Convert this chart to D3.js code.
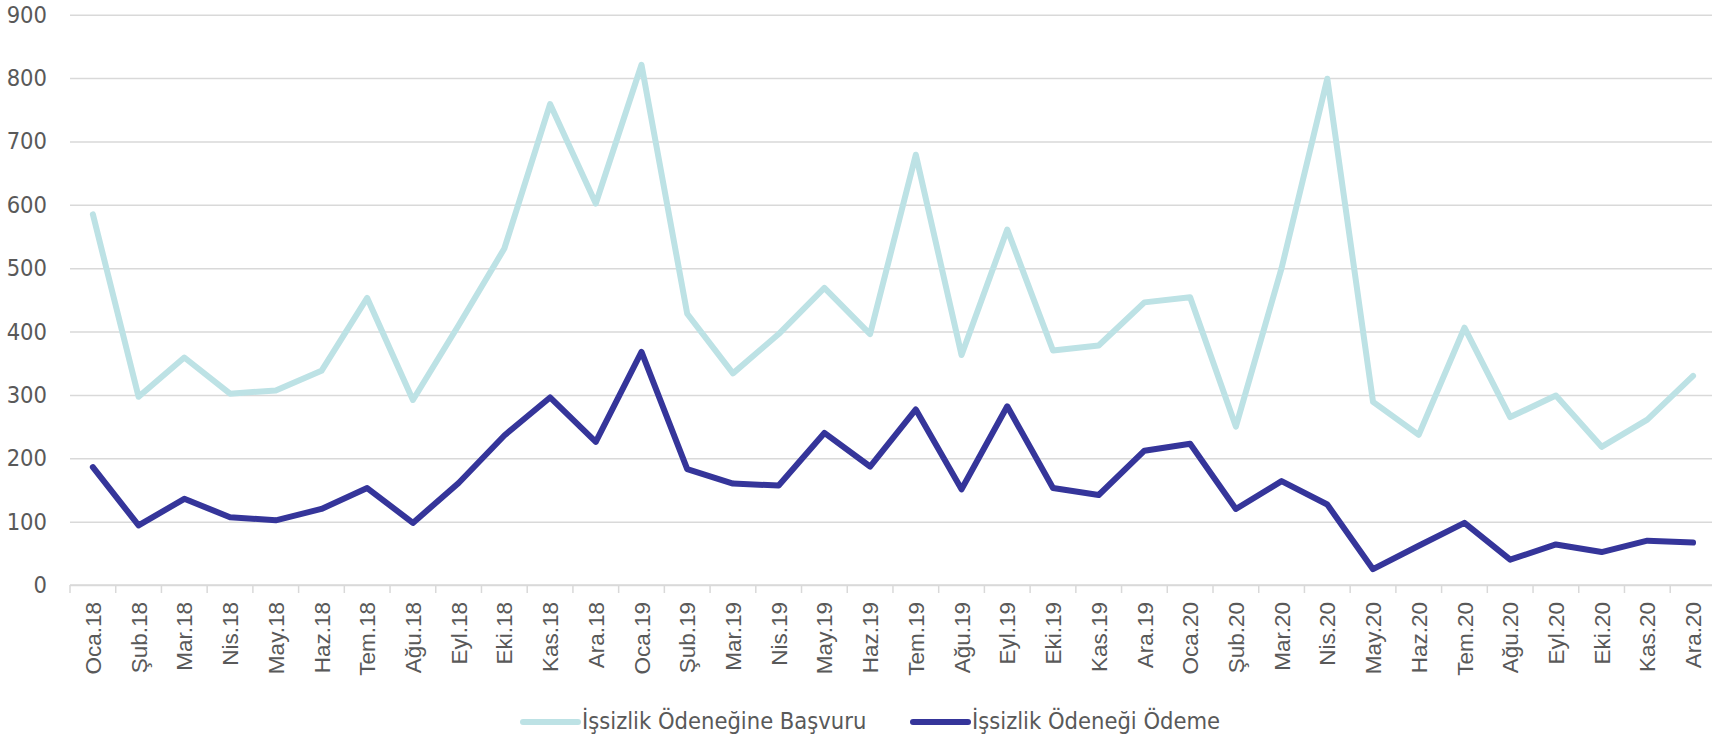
<!DOCTYPE html>
<html lang="tr">
<head>
<meta charset="utf-8">
<script src="https://cdn.jsdelivr.net/npm/d3@7"></script>
<style>
  html, body { margin: 0; padding: 0; background: #fff; }
  svg { display: block; }
</style>
</head>
<body>
<div id="chart"></div>
<script>
const months = ['Oca', 'Şub', 'Mar', 'Nis', 'May', 'Haz', 'Tem', 'Ağu', 'Eyl', 'Eki', 'Kas', 'Ara'];
const years = ['18', '19', '20'];
const categories = years.flatMap((y) => months.map((m) => `${m}.${y}`));

// İşsizlik Ödeneğine Başvuru
const basvuru = [585, 297, 359, 302, 307, 338, 453, 292, 410, 531, 759, 602,
  821, 428, 334, 396, 469, 396, 679, 363, 561, 370, 378, 446,
  454, 250, 500, 799, 289, 237, 406, 265, 299, 218, 261, 330];

// İşsizlik Ödeneği Ödeme
const odeme = [186, 94, 136, 107, 102, 120, 153, 98, 161, 236, 296, 226,
  368, 183, 160, 157, 240, 187, 277, 151, 282, 153, 142, 212,
  223, 120, 164, 127, 25, 62, 98, 40, 64, 52, 70, 67];

const yTicks = [0, 100, 200, 300, 400, 500, 600, 700, 800, 900];

const series = [
  { name: 'İşsizlik Ödeneğine Başvuru', values: basvuru, color: '#bde2e5' },
  { name: 'İşsizlik Ödeneği Ödeme', values: odeme, color: '#35359a' },
];

const width = 1712;
const height = 736;
const plot = { left: 70, top: 14.7, bottom: 585 };
const band = 45.72;

const svg = d3.select('#chart').append('svg')
  .attr('width', width)
  .attr('height', height);

const xScale = d3.scaleBand()
  .domain(categories)
  .range([plot.left, plot.left + band * categories.length])
  .paddingInner(0)
  .paddingOuter(0);

const yScale = d3.scaleLinear()
  .domain([0, 900])
  .range([plot.bottom, plot.top]);

const xMid = (d) => xScale(d) + xScale.bandwidth() / 2;

// gridlines + y labels
const yAxis = svg.append('g')
  .attr('transform', `translate(${plot.left}, 0)`)
  .call(d3.axisLeft(yScale).tickValues(yTicks).tickSize(-(width - plot.left)).tickPadding(23));

yAxis.select('.domain').remove();
yAxis.selectAll('.tick line')
  .attr('stroke', '#d9d9d9')
  .attr('stroke-width', 1.5);
yAxis.selectAll('.tick text')
  .attr('fill', '#595959')
  .style('font-family', '"DejaVu Sans Condensed", "DejaVu Sans", sans-serif')
  .style('font-size', '23.5px');

// x axis with ticks between categories
const xAxis = svg.append('g')
  .attr('transform', `translate(0, ${plot.bottom})`);

xAxis.append('line')
  .attr('x1', plot.left)
  .attr('x2', width)
  .attr('stroke', '#d9d9d9')
  .attr('stroke-width', 1.5);

xAxis.selectAll('line.tick')
  .data(categories)
  .join('line')
  .attr('class', 'tick')
  .attr('x1', (d) => xScale(d))
  .attr('x2', (d) => xScale(d))
  .attr('y1', 0)
  .attr('y2', 8)
  .attr('stroke', '#d9d9d9')
  .attr('stroke-width', 1.5);

xAxis.selectAll('text')
  .data(categories)
  .join('text')
  .attr('transform', (d) => `translate(${xMid(d)}, 17) rotate(-90)`)
  .attr('dy', '0.36em')
  .attr('text-anchor', 'end')
  .attr('fill', '#595959')
  .style('font-family', '"Liberation Sans", Arial, sans-serif')
  .style('font-size', '22.5px')
  .text((d) => d);

// lines
const line = d3.line()
  .x((d, i) => xMid(categories[i]))
  .y((d) => yScale(d));

svg.append('g')
  .selectAll('path')
  .data(series)
  .join('path')
  .attr('d', (s) => line(s.values))
  .attr('fill', 'none')
  .attr('stroke', (s) => s.color)
  .attr('stroke-width', 6)
  .attr('stroke-linejoin', 'round')
  .attr('stroke-linecap', 'round');

// legend
const legendX = [523, 913];
const legend = svg.append('g');

const items = legend.selectAll('g')
  .data(series)
  .join('g')
  .attr('transform', (s, i) => `translate(${legendX[i]}, 722)`);

items.append('line')
  .attr('x1', 0)
  .attr('x2', 55)
  .attr('stroke', (s) => s.color)
  .attr('stroke-width', 6)
  .attr('stroke-linecap', 'round');

items.append('text')
  .attr('x', 59)
  .attr('y', 7)
  .attr('fill', '#595959')
  .style('font-family', '"DejaVu Sans Condensed", "DejaVu Sans", sans-serif')
  .style('font-size', '23.5px')
  .text((s) => s.name);
</script>
</body>
</html>
